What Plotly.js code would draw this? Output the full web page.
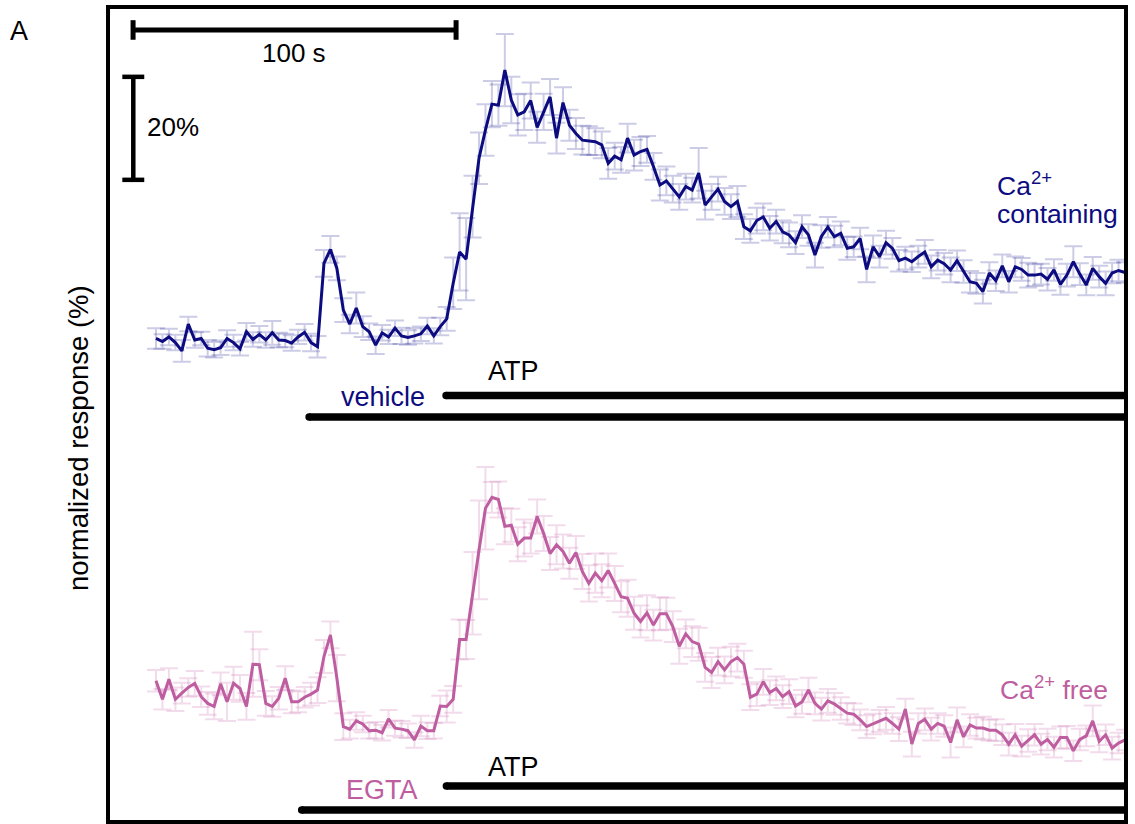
<!DOCTYPE html>
<html>
<head>
<meta charset="utf-8">
<script src="https://cdn.plot.ly/plotly-3.0.1.min.js"></script>
<style>
  html, body { margin: 0; padding: 0; background: #fff; }
  #chart { width: 1135px; height: 824px; }
</style>
</head>
<body>
<div id="chart"></div>
<script>
// ---------- DATA ----------
// time (s), sampled every 2 s
const timeSec = [0,2,4,6,8,10,12,14,16,18,20,22,24,26,28,30,32,34,36,38,40,42,44,46,48,50,52,54,56,58,60,62,64,66,68,70,72,74,76,78,80,82,84,86,88,90,92,94,96,98,100,102,104,106,108,110,112,114,116,118,120,122,124,126,128,130,132,134,136,138,140,142,144,146,148,150,152,154,156,158,160,162,164,166,168,170,172,174,176,178,180,182,184,186,188,190,192,194,196,198,200,202,204,206,208,210,212,214,216,218,220,222,224,226,228,230,232,234,236,238,240,242,244,246,248,250,252,254,256,258,260,262,264,266,268,270,272,274,276,278,280,282,284,286,288,290,292,294,296,298,300];

// Ca2+ containing (vehicle then ATP), normalized response (%)
const caContaining = [100.3,99.7,100.6,99.5,97.9,103.1,100.0,100.3,98.4,98.1,
  98.5,100.3,99.5,98.3,101.6,100.1,101.1,100.0,101.4,100.0,
  99.9,99.4,100.6,101.5,99.5,98.7,114.9,117.6,113.9,105.8,
  103.1,106.2,102.6,101.6,99.0,101.4,100.6,102.3,100.8,100.5,
  100.8,101.2,102.7,100.8,102.6,104.1,111.0,117.1,115.7,125.9,
  135.3,140.8,145.8,145.6,152.4,146.6,143.7,144.3,146.5,141.3,
  144.3,147.2,139.2,146.1,141.7,140.1,138.8,138.7,138.5,137.9,
  134.3,135.7,135.0,139.2,135.9,136.6,137.0,133.7,130.1,130.9,
  129.3,127.8,129.8,129.1,132.4,126.2,127.8,129.3,126.9,125.9,
  126.9,122.0,121.2,123.2,123.9,121.7,123.0,121.0,120.4,118.9,
  122.0,120.4,116.5,120.1,121.9,120.1,120.7,117.8,118.1,119.7,
  113.7,118.1,116.2,118.9,117.8,115.4,115.9,115.2,116.2,117.1,
  114.2,115.5,114.8,113.6,115.4,113.3,111.3,111.0,109.4,113.0,
  111.5,114.4,111.3,114.2,113.7,112.6,112.6,112.8,111.8,113.6,
  110.8,112.6,115.2,112.8,110.7,113.9,112.3,111.0,113.0,113.5,
  113.1];
const caContainingErr = [2.0,1.4,1.6,1.5,2.1,1.4,1.5,1.3,1.6,1.5,
  1.4,1.6,1.5,1.3,1.7,1.4,1.6,1.5,2.3,1.4,
  1.3,1.5,1.4,1.6,1.7,2.1,2.6,2.6,2.3,2.3,
  1.8,3.0,2.0,1.6,1.7,1.5,1.4,1.5,1.6,1.4,
  1.5,1.4,1.6,1.5,1.7,2.3,5.0,7.5,8.0,6.0,
  5.0,5.0,4.5,4.0,7.0,4.5,4.0,3.5,3.5,3.0,
  3.5,3.5,3.0,3.0,3.0,3.0,2.8,2.8,2.6,2.6,
  3.0,2.6,2.5,2.8,3.0,2.8,2.6,2.6,3.0,2.8,
  2.6,2.5,2.5,2.4,4.9,2.8,2.5,2.4,2.6,2.4,
  3.0,2.4,2.3,2.5,2.6,2.4,2.3,2.2,2.4,2.2,
  2.2,2.1,2.4,2.2,2.0,2.1,2.3,2.2,2.0,2.1,
  2.5,2.2,2.1,2.3,2.0,2.1,2.2,2.0,2.1,2.3,
  2.2,2.0,2.1,2.4,2.0,2.2,2.1,2.0,2.3,2.1,
  2.0,2.2,2.1,2.0,2.2,2.4,2.1,2.0,2.2,2.1,
  2.0,2.2,3.0,2.1,2.0,2.2,2.1,2.3,2.0,2.1,
  2.0];

// Ca2+ free (EGTA then ATP), normalized response (%)
const caFree = [101.8,98.2,102.1,98.2,99.4,100.5,101.3,98.7,97.4,96.8,
  101.2,97.7,101.3,100.3,96.8,105.0,104.9,97.4,96.8,98.4,
  102.3,97.7,97.7,98.6,99.2,100.0,106.5,110.7,102.3,92.9,
  92.4,94.0,93.4,92.1,92.2,91.7,94.4,92.6,92.4,92.1,
  90.3,93.0,92.1,92.1,96.9,96.8,98.2,109.8,109.8,118.8,
  127.2,135.3,137.4,137.0,131.8,132.0,128.3,129.5,129.5,133.7,
  130.4,126.5,128.2,126.9,124.6,126.7,123.0,120.7,122.7,121.2,
  123.2,120.7,118.1,117.8,114.9,113.3,115.0,112.6,114.8,114.8,
  112.3,108.5,110.9,109.4,108.9,104.4,103.4,105.5,103.9,105.5,
  106.3,105.0,98.6,99.2,101.6,99.5,100.3,98.7,99.7,96.9,
  97.7,100.0,97.4,96.3,97.9,97.3,96.4,95.5,95.3,94.2,
  92.9,93.4,94.0,94.5,93.5,92.4,96.3,89.5,93.5,94.3,
  92.4,93.5,93.0,89.8,94.2,90.9,93.2,92.6,92.6,92.2,
  92.2,91.3,89.5,91.3,89.1,90.2,91.3,89.5,90.4,88.9,
  90.8,90.8,88.2,90.4,91.1,94.0,90.0,91.3,88.7,89.7,
  90.3];
const caFreeErr = [2.1,2.0,2.1,2.3,2.0,1.8,2.4,2.0,2.2,2.5,
  2.2,3.7,3.2,2.6,2.6,6.3,3.0,2.4,2.0,2.2,
  2.3,2.2,2.0,2.0,2.2,2.5,3.2,2.6,4.5,2.6,
  1.8,1.7,1.6,1.5,1.6,1.5,1.7,1.5,1.6,1.4,
  1.5,2.0,1.6,1.5,2.0,3.1,2.6,3.9,3.8,8.0,
  9.6,8.0,3.0,3.5,3.5,3.2,3.3,3.6,3.0,3.3,
  3.4,3.2,3.8,3.3,3.0,3.2,3.4,3.5,3.8,3.2,
  3.3,3.4,3.0,3.6,3.2,3.1,3.4,3.0,3.2,3.1,
  3.0,3.4,2.8,3.0,3.2,2.8,3.0,2.7,2.6,2.9,
  2.7,2.6,2.5,2.3,2.5,2.4,2.3,2.2,2.4,2.2,
  2.3,2.4,2.1,2.2,2.3,2.1,2.2,2.0,2.1,2.0,
  2.2,2.0,2.1,2.2,2.0,2.3,2.0,2.4,2.0,2.1,
  2.2,2.0,2.1,2.9,2.4,2.0,2.1,2.0,2.2,2.0,
  2.1,2.0,2.2,2.1,2.0,2.2,2.1,2.0,2.1,2.0,
  2.1,2.2,2.0,2.1,2.0,3.0,2.1,2.0,2.2,2.0,
  2.0];

// stimulus onsets (s)
const vehicleStart = 47.4;
const atpStartTop = 89.8;
const egtaStart = 45.1;
const atpStartBottom = 89.9;

// labels
const labelTop = ["Ca<sup>2+</sup>", "containing"];
const labelBottom = "Ca<sup>2+</sup> free";
const yTitle = "normalized response (%)";
const scaleTimeLabel = "100 s";
const scaleRespLabel = "20%";
const scaleTime = 100;   // s
const scaleResp = 20;    // %

// ---------- STYLE / LAYOUT ----------
const NAVY = 'rgb(12,12,128)';
const PINK = 'rgb(190,94,160)';
const FONT = 'Liberation Sans, Arial, Helvetica, sans-serif';
const W = 1135, H = 824;
const M = {l:108, r:9, t:7, b:2};
const plotW = W - M.l - M.r, plotH = H - M.t - M.b;
const px = x => (x - M.l) / plotW;           // pixel x -> paper
const py = y => (H - M.b - y) / plotH;        // pixel y -> paper

const xRange = [-14.86, 300.3];
const yTopRange = [6.41, 164.66];
const yBotRange = [74.37, 232.62];
const xEnd = xRange[1];

const traces = [
  {
    x: timeSec, y: caContaining, type: 'scatter', mode: 'lines',
    line: {color: NAVY, width: 3},
    error_y: {type: 'data', array: caContainingErr, visible: true,
              color: 'rgba(40,40,150,0.24)', thickness: 2, width: 9},
    xaxis: 'x', yaxis: 'y', hoverinfo: 'skip'
  },
  {
    x: timeSec, y: caFree, type: 'scatter', mode: 'lines',
    line: {color: PINK, width: 3},
    error_y: {type: 'data', array: caFreeErr, visible: true,
              color: 'rgba(200,110,170,0.24)', thickness: 2, width: 9},
    xaxis: 'x', yaxis: 'y2', hoverinfo: 'skip'
  }
];

function hline(x0, x1, y, yref, w) {
  return {type:'line', xref:'x', yref:yref, x0:x0, x1:x1, y0:y, y1:y,
          line:{color:'black', width:w}};
}
function vline(x, y0, y1, yref, w) {
  return {type:'line', xref:'x', yref:yref, x0:x, x1:x, y0:y0, y1:y1,
          line:{color:'black', width:w}};
}
function cap(x, y, yref, d) {
  return {type:'circle', xref:'x', yref:yref, xsizemode:'pixel', ysizemode:'pixel',
          xanchor:x, yanchor:y, x0:-d/2, x1:d/2, y0:-d/2, y1:d/2,
          fillcolor:'black', line:{width:0}};
}

// scale bars (top-axis data coordinates)
const sbX0 = -7.1, sbY = 160.2;
const vbX = -7.03, vbY1 = 151.1;
const shapes = [
  // time scale bar
  hline(sbX0, sbX0 + scaleTime, sbY, 'y', 5),
  vline(sbX0, sbY - 1.9, sbY + 1.9, 'y', 5),
  vline(sbX0 + scaleTime, sbY - 1.9, sbY + 1.9, 'y', 5),
  // response scale bar
  vline(vbX, vbY1 - scaleResp, vbY1, 'y', 4.5),
  hline(vbX - 3.4, vbX + 3.4, vbY1, 'y', 4.5),
  hline(vbX - 3.4, vbX + 3.4, vbY1 - scaleResp, 'y', 4.5),
  // stimulus bars top
  hline(atpStartTop, xEnd + 1, 89.2, 'y', 7.5), cap(atpStartTop, 89.2, 'y', 7.5),
  hline(vehicleStart, xEnd + 1, 85.05, 'y', 7.5), cap(vehicleStart, 85.05, 'y', 7.5),
  // stimulus bars bottom
  hline(atpStartBottom, xEnd + 1, 81.36, 'y2', 7.5), cap(atpStartBottom, 81.36, 'y2', 7.5),
  hline(egtaStart, xEnd + 1, 76.7, 'y2', 7.5), cap(egtaStart, 76.7, 'y2', 7.5),
  // frame
  {type:'rect', xref:'paper', yref:'paper', x0:0, x1:1, y0:0, y1:1,
   line:{color:'black', width:4}}
];

function ann(text, x, y, opts) {
  return Object.assign({
    text: text, xref:'paper', yref:'paper', x: px(x), y: py(y),
    xanchor:'left', yanchor:'middle', showarrow:false,
    font:{family:FONT, size:26, color:'black'}
  }, opts || {});
}

const annotations = [
  ann('A', 8, 31, {font:{family:FONT, size:27, color:'black'}}),
  ann(scaleTimeLabel, 294, 53, {xanchor:'center'}),
  ann(scaleRespLabel, 145, 127),
  ann(yTitle, 78, 438, {xanchor:'center', textangle:-90,
      font:{family:FONT, size:27.5, color:'black'}}),
  ann(labelTop[0], 995, 184, {font:{family:FONT, size:26.5, color:NAVY}}),
  ann(labelTop[1], 995, 214, {font:{family:FONT, size:26.5, color:NAVY}}),
  ann('vehicle', 339, 397, {font:{family:FONT, size:27, color:NAVY}}),
  ann('ATP', 486, 371, {font:{family:FONT, size:27, color:'black'}}),
  ann('ATP', 486, 767, {font:{family:FONT, size:27, color:'black'}}),
  ann('EGTA', 344, 790, {font:{family:FONT, size:27, color:PINK}}),
  ann(labelBottom, 998, 688, {font:{family:FONT, size:26.5, color:PINK}})
];

const layout = {
  width: W, height: H, margin: M,
  paper_bgcolor: 'white', plot_bgcolor: 'white',
  showlegend: false,
  xaxis: {range: xRange, visible: false, fixedrange: true},
  yaxis: {range: yTopRange, visible: false, fixedrange: true},
  yaxis2: {range: yBotRange, visible: false, overlaying: 'y', fixedrange: true},
  shapes: shapes,
  annotations: annotations,
  font: {family: FONT}
};

Plotly.newPlot('chart', traces, layout, {displayModeBar: false, staticPlot: true});
</script>
</body>
</html>
